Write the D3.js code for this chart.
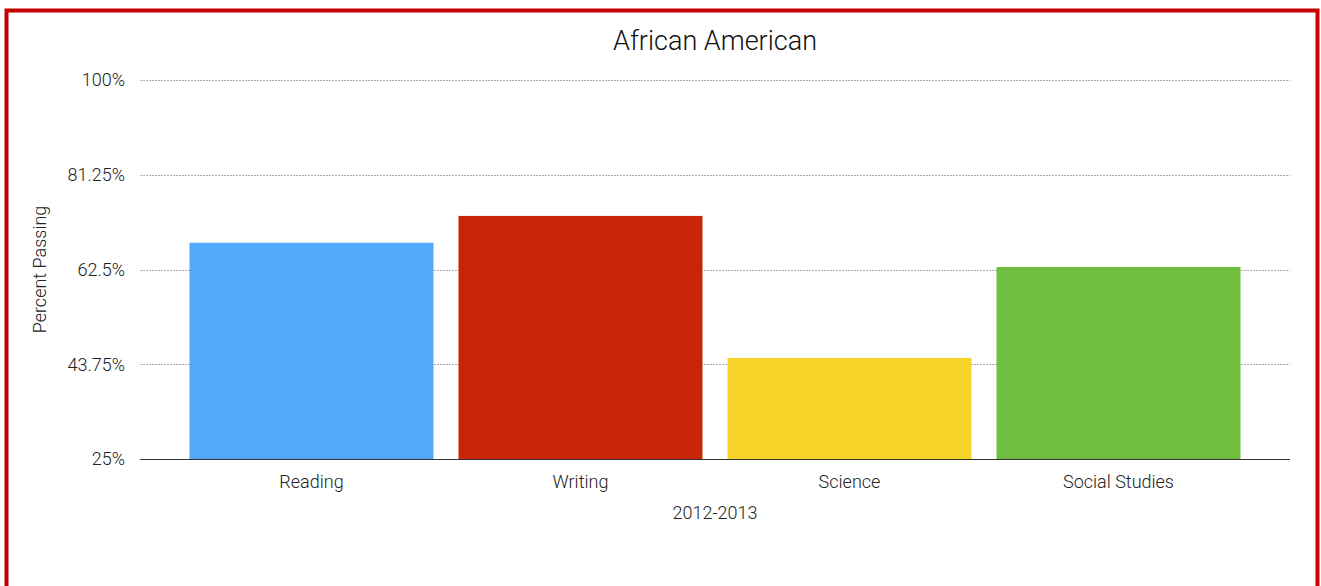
<!DOCTYPE html>
<html>
<head>
<meta charset="utf-8">
<script src="https://cdn.jsdelivr.net/npm/d3@7"></script>
<style>
  body { margin: 0; background: #fff; }
  svg { display: block; font-family: "Roboto", "Liberation Sans", sans-serif; font-weight: 300; }
</style>
</head>
<body>
<div id="chart"></div>
<script>
// values
const subjects = ["Reading", "Writing", "Science", "Social Studies"];
const percentPassing = [67.8, 73.1, 45.0, 63.0];
const barColors = ["#52a8fb", "#c82506", "#f5d329", "#70bf41"];
const yTicks = [25, 43.75, 62.5, 81.25, 100];

const width = 1321, height = 586;
const margin = {top: 80, right: 31, bottom: 127, left: 140};

const svg = d3.select("#chart").append("svg")
    .attr("width", width)
    .attr("height", height);

// red frame
svg.append("rect")
    .attr("x", 6.5).attr("y", 10.5)
    .attr("width", 1311).attr("height", 600)
    .attr("fill", "none")
    .attr("stroke", "#c40000")
    .attr("stroke-width", 4);

const x = d3.scaleBand()
    .domain(subjects)
    .range([margin.left, width - margin.right])
    .paddingInner(0.093)
    .paddingOuter(0.184);

const y = d3.scaleLinear()
    .domain([25, 100])
    .range([height - margin.bottom, margin.top]);

// grid lines (dotted)
svg.append("g")
    .selectAll("line")
    .data(yTicks.slice(1))
    .join("line")
    .attr("x1", margin.left)
    .attr("x2", width - margin.right)
    .attr("y1", d => Math.round(y(d)) + 0.5)
    .attr("y2", d => Math.round(y(d)) + 0.5)
    .attr("stroke", "#aaa")
    .attr("stroke-dasharray", "2,1");

// bars
svg.append("g")
    .selectAll("rect")
    .data(subjects)
    .join("rect")
    .attr("x", d => x(d))
    .attr("width", x.bandwidth())
    .attr("y", (d, i) => y(percentPassing[i]))
    .attr("height", (d, i) => y(25) - y(percentPassing[i]))
    .attr("fill", (d, i) => barColors[i]);

// y axis labels
const yAxis = svg.append("g")
    .attr("transform", `translate(${margin.left},0)`)
    .call(d3.axisLeft(y).tickValues(yTicks).tickSize(0).tickPadding(15)
        .tickFormat(d => d + "%"));
yAxis.select(".domain").remove();
yAxis.selectAll("text")
    .attr("font-size", 18)
    .attr("font-family", "Roboto, sans-serif")
    .attr("fill", "#222");

// x axis
const xAxis = svg.append("g")
    .attr("transform", `translate(0,${y(25)})`)
    .call(d3.axisBottom(x).tickSize(0).tickPadding(16));
xAxis.select(".domain")
    .attr("d", `M${margin.left},0.5H${width - margin.right}`)
    .attr("stroke", "#333")
    .attr("stroke-width", 1.2);
xAxis.selectAll("text")
    .attr("font-size", 18)
    .attr("font-family", "Roboto, sans-serif")
    .attr("fill", "#222");

// title
svg.append("text")
    .attr("x", (margin.left + width - margin.right) / 2)
    .attr("y", 50)
    .attr("text-anchor", "middle")
    .attr("font-size", 27)
    .attr("fill", "#111")
    .text("African American");

// x axis title
svg.append("text")
    .attr("x", (margin.left + width - margin.right) / 2)
    .attr("y", 519)
    .attr("text-anchor", "middle")
    .attr("font-size", 18)
    .attr("fill", "#222")
    .text("2012-2013");

// y axis title
svg.append("text")
    .attr("transform", `translate(46,${(margin.top + height - margin.bottom) / 2}) rotate(-90)`)
    .attr("text-anchor", "middle")
    .attr("font-size", 18)
    .attr("fill", "#222")
    .text("Percent Passing");
</script>
</body>
</html>
